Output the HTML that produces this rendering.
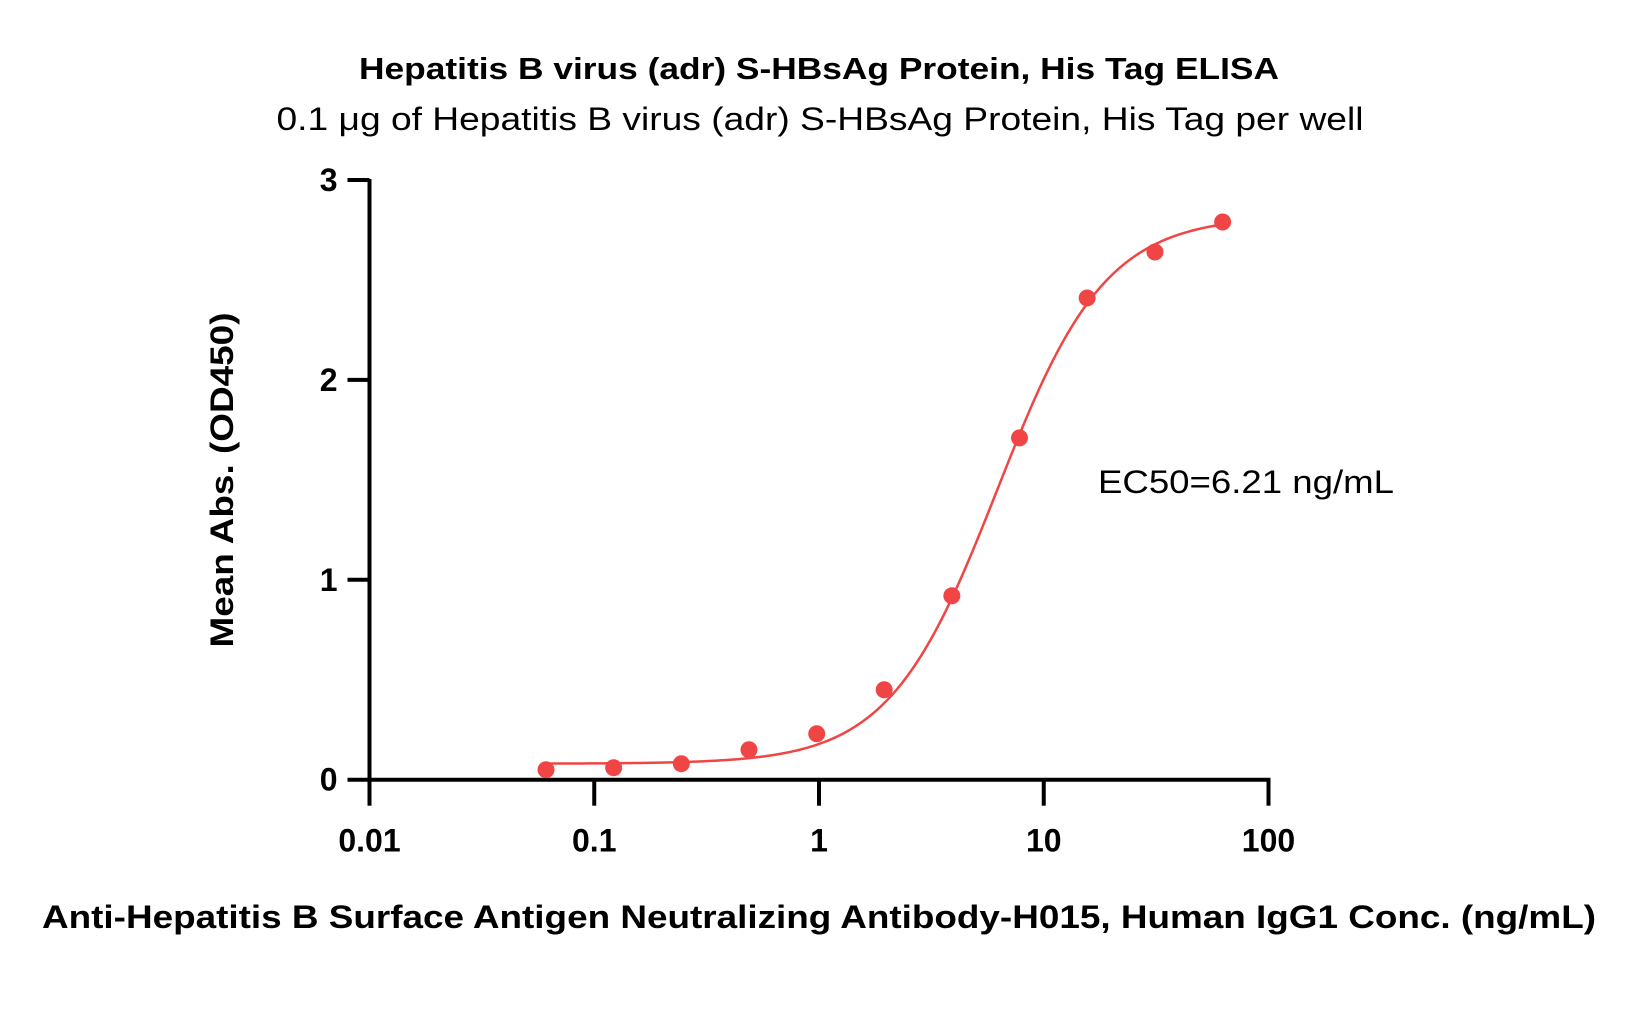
<!DOCTYPE html>
<html><head><meta charset="utf-8"><style>
html,body{margin:0;padding:0;background:#fff;}
svg{display:block;font-family:"Liberation Sans",sans-serif;}
</style></head><body>
<svg id="chart" width="1641" height="1035" viewBox="0 0 1641 1035">
<text x="819" y="79" text-anchor="middle" font-size="31" font-weight="bold" textLength="920" lengthAdjust="spacingAndGlyphs">Hepatitis B virus (adr) S-HBsAg Protein, His Tag ELISA</text>
<text x="820" y="130" text-anchor="middle" font-size="32" textLength="1087" lengthAdjust="spacingAndGlyphs">0.1 μg of Hepatitis B virus (adr) S-HBsAg Protein, His Tag per well</text>
<text transform="translate(233,480) rotate(-90)" text-anchor="middle" font-size="32" font-weight="bold" textLength="335" lengthAdjust="spacingAndGlyphs">Mean Abs. (OD450)</text>
<text x="819" y="928" text-anchor="middle" font-size="32" font-weight="bold" textLength="1554" lengthAdjust="spacingAndGlyphs">Anti-Hepatitis B Surface Antigen Neutralizing Antibody-H015, Human IgG1 Conc. (ng/mL)</text>
<text x="1098" y="493" font-size="32" textLength="296" lengthAdjust="spacingAndGlyphs">EC50=6.21 ng/mL</text>
<g id="axes"></g>
<g id="marks"></g>
</svg>
<script>
const concentrations=[0.061,0.122,0.244,0.488,0.977,1.95,3.9,7.8,15.6,31.25,62.5];
const absorbance=[0.05,0.06,0.08,0.15,0.23,0.45,0.92,1.71,2.41,2.64,2.79];
const yTicks=[0,1,2,3];
const xTicks=[0.01,0.1,1,10,100];
const xTickLabels=["0.01","0.1","1","10","100"];
const fitBottom=0.08, fitTop=2.82, fitEC50=6.21, fitHill=1.8;
const X0=369.5,X1=1268.5,Y0=779.7,Y3=180;
function xs(v){return X0+(Math.log10(v)+2)/4*(X1-X0);}
function ys(v){return Y0-v/3*(Y0-Y3);}
const NS="http://www.w3.org/2000/svg";
function mk(t,a,p){const e=document.createElementNS(NS,t);for(const k in a)e.setAttribute(k,a[k]);p.appendChild(e);return e;}
const ax=document.getElementById('axes'),mg=document.getElementById('marks');
let e=mk('line',{x1:X0,y1:Y0,x2:X0,y2:Y3-1,stroke:'#000','stroke-width':4},ax);


e=mk('line',{x1:X0-2,y1:Y0,x2:X1+2,y2:Y0,stroke:'#000','stroke-width':4},ax);


yTicks.forEach(v=>{
 const t=mk('line',{x1:X0-22,y1:ys(v),x2:X0,y2:ys(v),stroke:'#000','stroke-width':4},ax);
 
 
 const l=mk('text',{x:X0-32,y:ys(v)+11,'text-anchor':'end','font-size':32,'font-weight':'bold'},ax);l.textContent=v;
 
 
});
xTicks.forEach((v,i)=>{
 const t=mk('line',{x1:xs(v),y1:Y0,x2:xs(v),y2:Y0+26,stroke:'#000','stroke-width':4},ax);
 
 
 const l=mk('text',{x:xs(v),y:Y0+72,'text-anchor':'middle','font-size':32,'font-weight':'bold'},ax);l.textContent=xTickLabels[i];
 
 
});
let d='';const lo=Math.log10(concentrations[0]),hi=Math.log10(concentrations[concentrations.length-1]);
for(let i=0;i<=200;i++){const c=Math.pow(10,lo+(hi-lo)*i/200);const y=fitBottom+(fitTop-fitBottom)/(1+Math.pow(fitEC50/c,fitHill));d+=(i?'L':'M')+xs(c).toFixed(2)+' '+ys(y).toFixed(2);}
e=mk('path',{d:d,fill:'none',stroke:'#f04545','stroke-width':2.5},mg);


concentrations.forEach((c,i)=>{
 const p=mk('circle',{cx:xs(c),cy:ys(absorbance[i]),r:8.5,fill:'#f04545'},mg);
 
 
});
</script>
</body></html>
